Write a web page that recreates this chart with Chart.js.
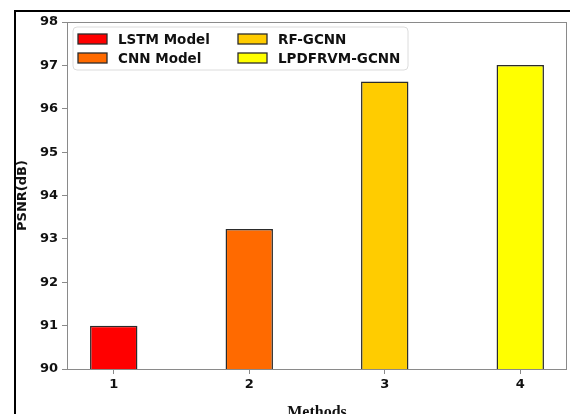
<!DOCTYPE html>
<html>
<head>
<meta charset="utf-8">
<script src="https://cdn.jsdelivr.net/npm/chart.js@4.4.1/dist/chart.umd.min.js"></script>
<style>
  html, body { margin: 0; padding: 0; background: #fff; overflow: hidden; }
  #wrap { position: relative; width: 570px; height: 430px; }
  #frame { position: absolute; left: 14px; top: 10px; right: 0; bottom: 0;
           border-left: 2px solid #000; border-top: 2px solid #000; }
  #wrap canvas { position: absolute; left: 0; top: 0; }
</style>
</head>
<body>
<div id="wrap">
  <div id="frame"></div>
  <canvas id="chart" width="570" height="430"></canvas>
</div>
<script>
// data
const methods = ['LSTM Model', 'CNN Model', 'RF-GCNN', 'LPDFRVM-GCNN'];
const positions = [1, 2, 3, 4];
const psnr = [91.0, 93.23, 96.63, 97.01];
const barColors = ['#ff0000', '#ff6a00', '#ffcc00', '#ffff00'];
const yTicks = [90, 91, 92, 93, 94, 95, 96, 97, 98];

const datasets = methods.map((name, i) => ({
  label: name,
  data: [{ x: positions[i], y: psnr[i] }],
  backgroundColor: barColors[i],
  borderColor: '#2b2b2b',
  borderWidth: 1.5,
  grouped: false,
  categoryPercentage: 1,
  barPercentage: 0.35
}));

// matplotlib-like 2x2 legend box inside the axes + full spines
const boxLegend = {
  id: 'boxLegend',
  afterDraw(chart) {
    const ctx = chart.ctx;
    const a = chart.chartArea;
    ctx.save();
    ctx.strokeStyle = '#8a8a8a';
    ctx.lineWidth = 1;
    ctx.strokeRect(a.left + 0.5, a.top + 0.5, a.right - a.left - 1, a.bottom - a.top);

    const bx = a.left + 6, by = a.top + 5, bw = 335, bh = 43;
    ctx.beginPath();
    ctx.roundRect(bx, by, bw, bh, 4);
    ctx.fillStyle = 'rgba(255,255,255,0.8)';
    ctx.fill();
    ctx.strokeStyle = '#dcdcdc';
    ctx.stroke();

    ctx.font = 'bold 13.5px "DejaVu Sans"';
    ctx.textBaseline = 'middle';
    chart.data.datasets.forEach((ds, i) => {
      const col = Math.floor(i / 2), row = i % 2;
      const sx = bx + 5 + col * 160;
      const cy = by + 12 + row * 19;
      ctx.fillStyle = ds.backgroundColor;
      ctx.fillRect(sx, cy - 5, 29, 10);
      ctx.strokeStyle = '#2b2b2b';
      ctx.lineWidth = 1.3;
      ctx.strokeRect(sx, cy - 5, 29, 10);
      ctx.fillStyle = '#111';
      ctx.fillText(ds.label, sx + 40, cy + 1);
    });
    ctx.restore();
  }
};

new Chart(document.getElementById('chart'), {
  type: 'bar',
  data: { datasets },
  plugins: [boxLegend],
  options: {
    responsive: false,
    animation: false,
    layout: { padding: { left: 0, top: 22, right: 3, bottom: 0 } },
    plugins: { legend: { display: false }, tooltip: { enabled: false } },
    scales: {
      x: {
        type: 'linear',
        offset: false,
        min: 0.655,
        max: 4.345,
        afterBuildTicks: s => { s.ticks = positions.map(v => ({ value: v })); },
        afterFit: s => { s.height = 61; },
        border: { display: false },
        grid: { display: true, offset: false, drawOnChartArea: false, drawTicks: true, tickLength: 5, tickColor: '#8a8a8a' },
        ticks: { color: '#111', padding: 3, font: { family: 'DejaVu Sans', size: 13, weight: 'bold' } },
        title: { display: true, text: 'Methods', color: '#111', padding: { top: 0, bottom: 8 },
                 font: { family: 'Liberation Serif', size: 16, weight: 'bold' } }
      },
      y: {
        min: yTicks[0],
        max: yTicks[yTicks.length - 1],
        afterBuildTicks: s => { s.ticks = yTicks.map(v => ({ value: v })); },
        afterFit: s => { s.width = 67; },
        border: { display: false },
        grid: { display: true, drawOnChartArea: false, drawTicks: true, tickLength: 5, tickColor: '#8a8a8a' },
        ticks: { color: '#111', padding: 4, font: { family: 'DejaVu Sans', size: 13, weight: 'bold' } },
        title: { display: true, text: 'PSNR(dB)', color: '#111', padding: { top: 15, bottom: 0 },
                 font: { family: 'DejaVu Sans', size: 13, weight: 'bold' } }
      }
    }
  }
});
</script>
</body>
</html>
